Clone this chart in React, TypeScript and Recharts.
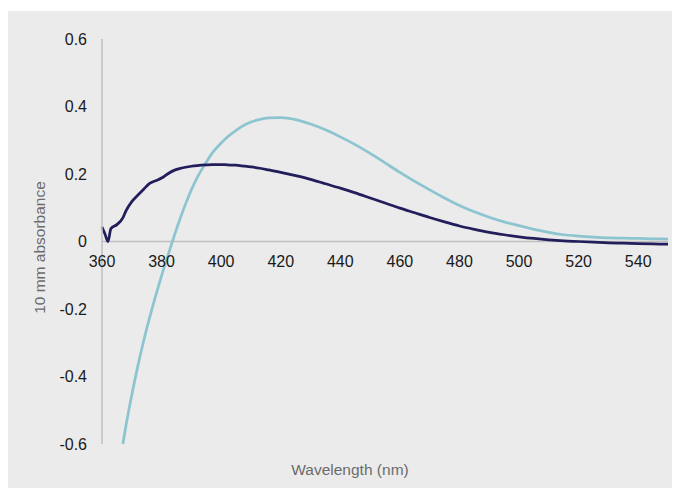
import React from 'react';
import { LineChart, Line, XAxis, YAxis, ReferenceLine, ReferenceDot } from 'recharts';

const wavelengths = [
  360, 361, 362, 363, 365, 367, 368, 370, 372, 374, 376, 378, 380, 382, 384, 386, 388, 390, 392, 395,
  397, 400, 402, 405, 407, 410, 413, 416, 420, 425, 430, 435, 440, 445, 450, 455, 460, 465, 470, 475,
  480, 485, 490, 495, 500, 505, 510, 515, 520, 525, 530, 535, 540, 545, 550,
];

const darkSample = [
  0.043, 0.022, 0.0, 0.038, 0.05, 0.07, 0.09, 0.118, 0.137, 0.155, 0.172, 0.18, 0.188, 0.2, 0.21, 0.216, 0.22, 0.223, 0.225, 0.227,
  0.228, 0.228, 0.227, 0.226, 0.224, 0.221, 0.217, 0.212, 0.205, 0.195, 0.184, 0.171, 0.158, 0.144, 0.129, 0.114, 0.099, 0.085, 0.071, 0.058,
  0.046, 0.036, 0.027, 0.02, 0.014, 0.009, 0.005, 0.002, 0.0, -0.002, -0.004, -0.005, -0.006, -0.007, -0.008,
];

const lightSample = [
  null, null, null, null, null, -0.6, -0.548, -0.455, -0.37, -0.294, -0.225, -0.161, -0.101, -0.045, 0.01, 0.062, 0.11, 0.153, 0.19, 0.235,
  0.262, 0.292, 0.309, 0.329, 0.341, 0.354, 0.362, 0.366, 0.367, 0.361, 0.348, 0.331, 0.31, 0.287, 0.261, 0.233, 0.205, 0.178, 0.153, 0.129,
  0.107, 0.088, 0.072, 0.058, 0.047, 0.036, 0.027, 0.02, 0.016, 0.013, 0.011, 0.01, 0.009, 0.008, 0.007,
];

const xTicks = [360, 380, 400, 420, 440, 460, 480, 500, 520, 540];
const yTicks = [0.6, 0.4, 0.2, 0, -0.2, -0.4, -0.6];
const xDomain = [360, 550];
const yDomain = [-0.6, 0.6];

const xTitle = 'Wavelength (nm)';
const yTitle = '10 mm absorbance';

const data = wavelengths.map((w, i) => ({ w, dark: darkSample[i], light: lightSample[i] }));

const W = 672;
const H = 480;
const margin = { top: 28, right: 12, bottom: 47, left: 0 };
const yAxisWidth = 94;

export default function App() {
  const plotMidY = margin.top + (H - margin.top - margin.bottom) / 2;
  return (
    <div
      style={{
        position: 'relative',
        top: 3,
        width: W,
        height: H,
        background: '#EBEBEB',
        fontFamily: '"Liberation Sans", Arial, sans-serif',
      }}
    >
      <LineChart width={W} height={H} data={data} margin={margin}>
        <XAxis dataKey="w" type="number" domain={xDomain} ticks={xTicks} hide />
        <YAxis
          type="number"
          domain={yDomain}
          ticks={yTicks}
          width={yAxisWidth}
          axisLine={{ stroke: '#BFBFBF', strokeWidth: 1.5 }}
          tickLine={false}
          tickSize={0}
          tickMargin={15}
          tick={{ fill: '#1a1a1a', fontSize: 16 }}
          interval={0}
        />
        <ReferenceLine y={0} stroke="#BFBFBF" strokeWidth={1.5} />
        {xTicks.map((t) => (
          <ReferenceDot
            key={t}
            x={t}
            y={0}
            r={0}
            fill="none"
            stroke="none"
            label={{ value: String(t), position: 'bottom', offset: 14, fill: '#1a1a1a', fontSize: 16 }}
          />
        ))}
        <Line
          type="monotone"
          dataKey="light"
          stroke="#8CC5D0"
          strokeWidth={2.75}
          dot={false}
          connectNulls={false}
          isAnimationActive={false}
        />
        <Line
          type="monotone"
          dataKey="dark"
          stroke="#221E5B"
          strokeWidth={2.75}
          dot={false}
          isAnimationActive={false}
        />
        <text x={342} y={458} textAnchor="middle" dominantBaseline="central" fill="#6b6b6b" fontSize={15.5}>
          {xTitle}
        </text>
        <text
          x={31}
          y={plotMidY + 6}
          textAnchor="middle"
          dominantBaseline="central"
          fill="#6b6b6b"
          fontSize={15.5}
          transform={`rotate(-90, 31, ${plotMidY + 6})`}
        >
          {yTitle}
        </text>
      </LineChart>
    </div>
  );
}
